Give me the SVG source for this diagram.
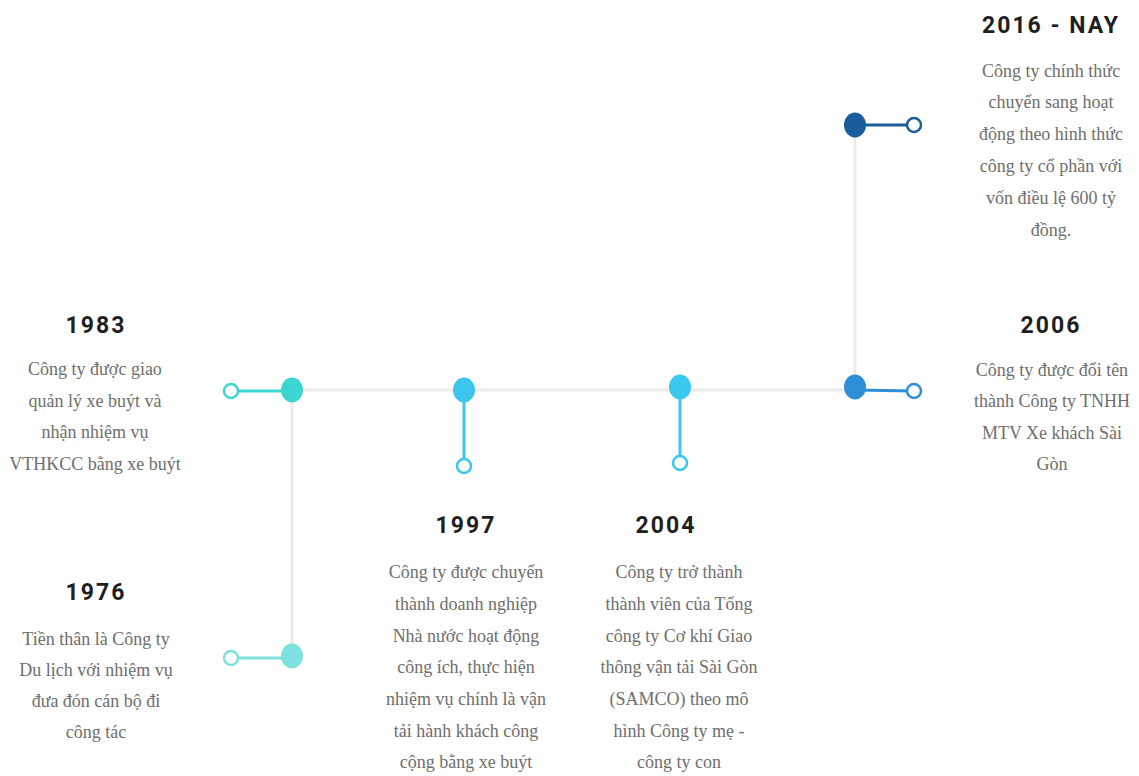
<svg xmlns="http://www.w3.org/2000/svg" width="1139" height="776" viewBox="0 0 1139 776">
  <style>
    .yr { font-family: Roboto, "Liberation Sans", sans-serif; font-weight: 700; font-size: 23px; letter-spacing: 2px; fill: #1f1f1f; text-anchor: middle; }
    .tx { font-family: "Liberation Serif", serif; font-size: 18px; fill: #6e6e6e; text-anchor: middle; }
    .track { stroke: #ececec; stroke-width: 3; fill: none; }
    .ring { fill: #fff; stroke-width: 2.5; }
  </style>
  <rect width="1139" height="776" fill="#fff"/>

  <!-- timeline track -->
  <g id="connectors">
    <line class="track" x1="292" y1="390" x2="855" y2="390"/>
    <line class="track" x1="292" y1="390" x2="292" y2="656"/>
    <line class="track" x1="855" y1="125" x2="855" y2="390"/>
  </g>

  <g id="n1976">
    <line x1="231" y1="658" x2="292" y2="658" stroke="#7fe0e0" stroke-width="3"/>
    <ellipse cx="292" cy="656" rx="11" ry="12.5" fill="#7fe0e0"/>
    <circle class="ring" cx="231" cy="658" r="7" stroke="#7fe0e0"/>
    <text class="yr" x="96" y="600">1976</text>
    <text class="tx" x="96" y="645">Tiền thân là Công ty</text>
    <text class="tx" x="96" y="676">Du lịch với nhiệm vụ</text>
    <text class="tx" x="96" y="707">đưa đón cán bộ đi</text>
    <text class="tx" x="96" y="738">công tác</text>
  </g>

  <g id="n1983">
    <line x1="231" y1="391" x2="292" y2="391" stroke="#3cd6d0" stroke-width="3"/>
    <ellipse cx="292" cy="390" rx="11" ry="12.5" fill="#3cd6d0"/>
    <circle class="ring" cx="231" cy="391" r="7" stroke="#3cd6d0"/>
    <text class="yr" x="96" y="333">1983</text>
    <text class="tx" x="95" y="375">Công ty được giao</text>
    <text class="tx" x="95" y="407">quản lý xe buýt và</text>
    <text class="tx" x="95" y="438">nhận nhiệm vụ</text>
    <text class="tx" x="95" y="470">VTHKCC bằng xe buýt</text>
  </g>

  <g id="n1997">
    <line x1="464" y1="390" x2="464" y2="466" stroke="#3cc6ee" stroke-width="3"/>
    <ellipse cx="464" cy="390" rx="11" ry="12.5" fill="#3cc6ee"/>
    <circle class="ring" cx="464" cy="466" r="7" stroke="#3cc6ee"/>
    <text class="yr" x="466" y="533">1997</text>
    <text class="tx" x="466" y="578">Công ty được chuyển</text>
    <text class="tx" x="466" y="610">thành doanh nghiệp</text>
    <text class="tx" x="466" y="642">Nhà nước hoạt động</text>
    <text class="tx" x="466" y="673">công ích, thực hiện</text>
    <text class="tx" x="466" y="705">nhiệm vụ chính là vận</text>
    <text class="tx" x="466" y="737">tải hành khách công</text>
    <text class="tx" x="466" y="768">cộng bằng xe buýt</text>
  </g>

  <g id="n2004">
    <line x1="680" y1="387" x2="680" y2="463" stroke="#38c8ee" stroke-width="3"/>
    <ellipse cx="680" cy="387" rx="11" ry="12.5" fill="#38c8ee"/>
    <circle class="ring" cx="680" cy="463" r="7" stroke="#38c8ee"/>
    <text class="yr" x="666" y="533">2004</text>
    <text class="tx" x="679" y="578">Công ty trở thành</text>
    <text class="tx" x="679" y="610">thành viên của Tổng</text>
    <text class="tx" x="679" y="642">công ty Cơ khí Giao</text>
    <text class="tx" x="679" y="673">thông vận tải Sài Gòn</text>
    <text class="tx" x="679" y="705">(SAMCO) theo mô</text>
    <text class="tx" x="679" y="737">hình Công ty mẹ -</text>
    <text class="tx" x="679" y="768">công ty con</text>
  </g>

  <g id="n2006">
    <line x1="855" y1="390" x2="914" y2="391" stroke="#2f8fd6" stroke-width="3"/>
    <ellipse cx="855" cy="387" rx="11" ry="12.5" fill="#2f8fd6"/>
    <circle class="ring" cx="914" cy="391" r="7" stroke="#2f8fd6"/>
    <text class="yr" x="1051" y="333">2006</text>
    <text class="tx" x="1052" y="376">Công ty được đổi tên</text>
    <text class="tx" x="1052" y="407">thành Công ty TNHH</text>
    <text class="tx" x="1052" y="439">MTV Xe khách Sài</text>
    <text class="tx" x="1052" y="470">Gòn</text>
  </g>

  <g id="n2016">
    <line x1="855" y1="125" x2="914" y2="125" stroke="#1a5c9c" stroke-width="3"/>
    <ellipse cx="855" cy="125" rx="11" ry="12.5" fill="#1a5c9c"/>
    <circle class="ring" cx="914" cy="125" r="7" stroke="#1a5c9c"/>
    <text class="yr" x="1051" y="33">2016 - NAY</text>
    <text class="tx" x="1051" y="77">Công ty chính thức</text>
    <text class="tx" x="1051" y="108">chuyển sang hoạt</text>
    <text class="tx" x="1051" y="140">động theo hình thức</text>
    <text class="tx" x="1051" y="172">công ty cổ phần với</text>
    <text class="tx" x="1051" y="204">vốn điều lệ 600 tỷ</text>
    <text class="tx" x="1051" y="236">đồng.</text>
  </g>
</svg>
